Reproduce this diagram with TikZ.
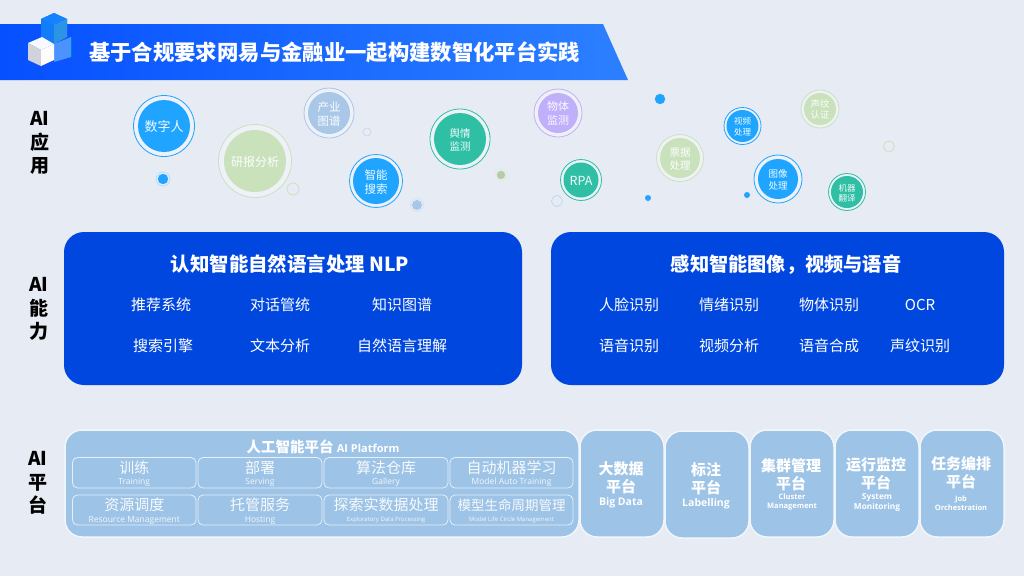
\documentclass[tikz,border=0pt]{standalone}
\usepackage{fontspec}
\setmainfont{Noto Sans CJK SC}
\newfontfamily\en{Open Sans}
\definecolor{bgc}{HTML}{E7EBF3}
\definecolor{bluec}{HTML}{1FA5FF}
\definecolor{greenc}{HTML}{CAE2BC}
\definecolor{skyc}{HTML}{A9C8E8}
\definecolor{tealc}{HTML}{2FBFA5}
\definecolor{purpc}{HTML}{C0B0FB}
\definecolor{cardc}{HTML}{0047E0}
\definecolor{platc}{HTML}{9DC3E6}
\definecolor{banl}{HTML}{0650FF}
\definecolor{banr}{HTML}{2C80FF}
\newcommand{\fs}[1]{\fontsize{#1}{#1}\selectfont}
\newcommand{\fsb}[2]{\fontsize{#1}{#2}\selectfont}
\newcommand{\bub}[9]{% name, x, y, outer r, inner r, colour, size, skip, text
  \draw[#6, line width=.8pt, fill=bgc!70!white] (#2,#3) circle[radius=#4];
  \fill[#6] (#2,#3) circle[radius=#5];
  \node[inner sep=0pt, yshift=-.8pt, text=white!94!#6, align=center, font=\fsb{#7}{#8}] (#1) at (#2,#3) {#9};}
\tikzset{
  x=1pt,y=-1pt,
  lefthead/.style={font=\fsb{19}{23.5}\bfseries, align=center, text=black, inner sep=0pt},
  cardbox/.style={draw=none, fill=cardc, rounded corners=20pt},
  cardtitle/.style={font=\fs{19.4}\bfseries, text=white, inner sep=0pt},
  carditem/.style={font=\fs{15}, text=white, inner sep=0pt},
  platbox/.style={draw=white!85!platc, line width=1.5pt, fill=platc, rounded corners=17pt},
  subbox/.style={draw=white!75!platc, line width=.8pt, rounded corners=5pt},
  subzh/.style={text=white!92!platc, inner sep=0pt},
  suben/.style={text=white!88!platc, inner sep=0pt},
  sidezh/.style={font=\fsb{15}{18}\bfseries, text=white, inner sep=0pt, align=center},
  sideen/.style={font=\fs{10.5}\bfseries\en, text=white, inner sep=0pt, align=center},
  sideens/.style={font=\fsb{7.5}{9}\bfseries\en, text=white, inner sep=0pt, align=center},
}
\begin{document}
\begin{tikzpicture}
\fill[bgc] (0,0) rectangle (1024,576);
\useasboundingbox (0,0) rectangle (1024,576);
% banner
\shade[left color=banl, right color=banr]
  (0,24) -- (603,24) -- (628,80) -- (0,80) -- cycle;
\node[font=\fs{21.35}\bfseries, text=white, inner sep=0pt, anchor=west] (title) at (89,52) {基于合规要求网易与金融业一起构建数智化平台实践};
% cube icon
\fill[cardc!30!bluec!80!banl] (41,19) -- (54,13) -- (67,19) -- (67,37) -- (54,44) -- (41,37) -- cycle;
\fill[bluec!60!banl] (41,19) -- (54,13) -- (67,19) -- (54,25) -- cycle;
\fill[banr!70!tealc] (54,25) -- (67,19) -- (67,37) -- (54,44) -- cycle;
\fill[banr!85!white] (54,44) -- (71,37) -- (71,57) -- (54,62) -- cycle;
\fill[bluec!60!tealc] (69.8,37.5) -- (71,37) -- (71,57) -- (69.8,57.4) -- cycle;
\fill[white!90!skyc] (28,43) -- (42,37) -- (54,44) -- (41,50) -- cycle;
\fill[black!10!bgc] (28,43) -- (41,50) -- (41,66) -- (28,60) -- cycle;
\fill[white!92!bgc] (41,50) -- (54,44) -- (54,60) -- (41,66) -- cycle;
% left heads
\node[lefthead] (h1) at (40,143) {AI\\应\\用};
\node[lefthead] (h2) at (39,309) {AI\\能\\力};
\node[lefthead] (h3) at (38,483) {AI\\平\\台};
% bubbles
\bub{b1}{164}{126}{30.5}{26}{bluec}{13}{16}{数字人}
\bub{b2}{255}{161}{36.5}{31}{greenc}{12}{14}{研报分析}
\bub{b3}{329}{113}{25}{21}{skyc}{11.5}{14}{产业\\图谱}
\bub{b4}{376}{181}{26.5}{23}{bluec}{11.5}{14}{智能\\搜索}
\bub{b5}{460}{139}{30}{26}{tealc}{10.5}{12.7}{舆情\\监测}
\bub{b6}{558}{113}{24}{20}{purpc}{11}{14}{物体\\监测}
\bub{b7}{581}{180}{20.5}{17.5}{tealc}{12.5}{14}{RPA}
\bub{b8}{680}{158}{23.5}{20}{greenc}{10.5}{13}{票据\\处理}
\bub{b9}{742.5}{126}{18.5}{16}{bluec}{8.5}{11}{视频\\处理}
\bub{b10}{820}{109}{19}{16}{greenc}{9.3}{11}{声纹\\认证}
\bub{b11}{778}{179}{24}{20}{bluec}{9.5}{11.5}{图像\\处理}
\bub{b12}{847}{192}{18.5}{16}{tealc}{8.5}{10}{机器\\翻译}
% small dots
\draw[bluec!35!white, line width=.8pt] (163,179) circle[radius=7];
\fill[bluec] (163,179) circle[radius=5.2];
\draw[skyc!70!white, line width=.7pt] (367,132) circle[radius=4];
\draw[greenc, line width=.8pt] (293,189) circle[radius=6];
\draw[skyc!50!white, line width=.8pt] (417,205) circle[radius=6.5];
\fill[skyc] (417,205) circle[radius=5];
\draw[greenc!60!white, line width=.8pt] (501,175) circle[radius=6];
\fill[greenc!90!black] (501,175) circle[radius=4.2];
\draw[skyc!70!white, line width=.8pt] (557,201) circle[radius=5.5];
\fill[bluec] (660,99) circle[radius=5.2];
\fill[bluec] (648,198) circle[radius=3];
\fill[bluec] (747,195) circle[radius=3];
\draw[greenc, line width=.8pt] (889,146.5) circle[radius=5.5];
% cards
\draw[cardbox] (64,232) rectangle (522,385);
\draw[cardbox] (551,232) rectangle (1004,385);
\node[cardtitle] (t1) at (290,264.5) {认知智能自然语言处理 NLP};
\node[cardtitle, font=\fs{19.2}\bfseries] (t2) at (786,264.5) {感知智能图像，视频与语音};
\foreach \n/\x/\y/\s in {a1/161/305/推荐系统,a2/280/305/对话管统,a3/402/305/知识图谱,a4/163/346/搜索引擎,a5/280/346/文本分析,a6/402/346/自然语言理解,
  c1/629/305/人脸识别,c2/729/305/情绪识别,c3/829/305/物体识别,c4/920/305/OCR,c5/629/346/语音识别,c6/729/346/视频分析,c7/829/346/语音合成,c8/920/346/声纹识别}
  \node[carditem] (\n) at (\x,\y) {\s};
% platform
\draw[platbox] (65,430) rectangle (579,537);
\node[inner sep=0pt, text=white] (pt) at (323,446.5) {\fs{14.5}\bfseries 人工智能平台 \fs{11}\en\bfseries AI Platform};
\foreach \n/\xa/\xb/\ya/\yb/\zh/\eng/\fz/\fe in {
  s1/72.5/196/457.5/488/训练/Training/15/8.5,
  s2/198/322/457.5/488/部署/Serving/15/8.5,
  s3/324/448/457.5/488/算法仓库/Gallery/15/8.5,
  s4/450/573/457.5/488/自动机器学习/Model Auto Training/15/8.5,
  s5/72.5/196/495/525/资源调度/Resource Management/15/8.5,
  s6/198/322/495/525/托管服务/Hosting/15/8.5,
  s7/324/448/495/525/探索实数据处理/Exploratory Data Processing/15/6,
  s8/450/573/495/525/模型生命周期管理/Model Life Circle Management/13.5/6}
{
  \draw[subbox] (\xa,\ya) rectangle (\xb,\yb);
  \node[subzh, font=\fs{\fz}] (\n z) at ({(\xa+\xb)/2},\ya+10) {\zh};
  \node[suben, font=\fs{\fe}\en] (\n e) at ({(\xa+\xb)/2},\ya+25) {\eng};
}
% side platforms
\draw[platbox] (580,430) rectangle (664,537);
\draw[platbox] (665,431) rectangle (749,538);
\draw[platbox] (750,430) rectangle (834,537);
\draw[platbox] (835,430) rectangle (919,537);
\draw[platbox] (920,430) rectangle (1004,537);
\node[sidezh] (p1) at (621,478) {大数据\\平台};
\node[sideen] (p1e) at (621,502.5) {Big Data};
\node[sidezh] (p2) at (706,478.5) {标注\\平台};
\node[sideen] (p2e) at (706,503.5) {Labelling};
\node[sidezh] (p3) at (791,475) {集群管理\\平台};
\node[sideens] (p3e) at (792,502.5) {Cluster\\Management};
\node[sidezh] (p4) at (876,474) {运行监控\\平台};
\node[sideens, font=\fsb{8.3}{10}\bfseries\en] (p4e) at (877,502) {System\\Monitoring};
\node[sidezh] (p5) at (961,473) {任务编排\\平台};
\node[sideens] (p5e) at (961,503) {Job\\Orchestration};
\end{tikzpicture}
\end{document}
